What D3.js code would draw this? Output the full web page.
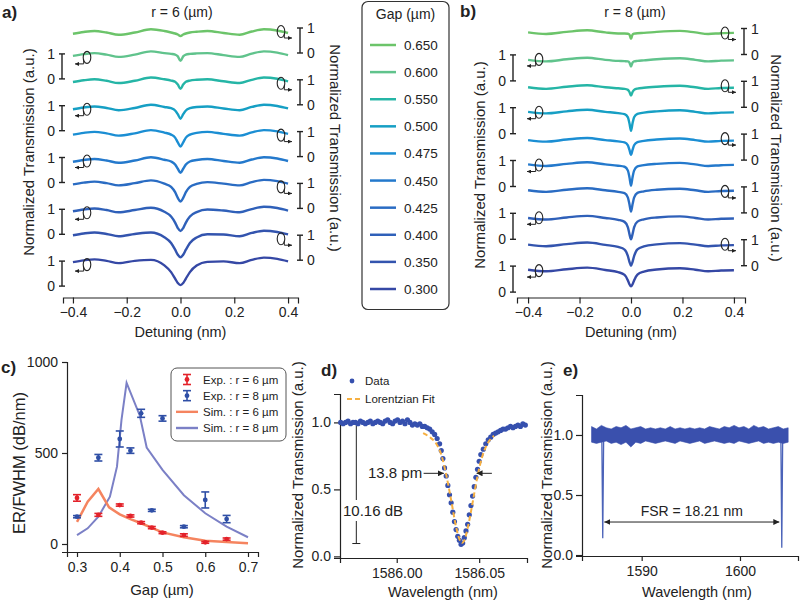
<!DOCTYPE html>
<html>
<head>
<meta charset="utf-8">
<script src="https://cdn.jsdelivr.net/npm/d3@7"></script>
<style>
body { margin: 0; background: #fff; }
svg { font-family: "Liberation Sans", Arial, Helvetica, sans-serif; }
.axis path, .axis line { stroke: #222; stroke-width: 1.2; }
.axis text { font-size: 14px; fill: #222; font-family: "Liberation Sans", Arial, sans-serif; }
</style>
</head>
<body>
<svg id="fig" width="800" height="603"></svg>
<script>
// ---------- data ----------
var gaps = ["0.650", "0.600", "0.550", "0.500", "0.475", "0.450", "0.425", "0.400", "0.350", "0.300"];

// panel a (r = 6 um), detuning in nm, transmission per gap (top to bottom)
var detuneA = [-0.4, -0.36, -0.32, -0.275, -0.23, -0.17, -0.11, -0.06, -0.035, -0.02, -0.01, 0, 0.01, 0.02, 0.035, 0.06, 0.1, 0.16, 0.22, 0.265, 0.31, 0.36, 0.4];
var transA = [
  [0.77, 0.84, 0.88, 0.82, 0.73, 0.82, 0.95, 0.88, 0.82, 0.78, 0.74, 0.68, 0.74, 0.78, 0.82, 0.85, 0.88, 0.80, 0.73, 0.86, 0.95, 0.90, 0.80],
  [0.92, 0.99, 1.03, 0.97, 0.88, 0.97, 1.10, 1.03, 1.00, 0.97, 0.90, 0.72, 0.90, 0.97, 1.00, 1.02, 1.03, 0.95, 0.88, 1.01, 1.10, 1.05, 0.95],
  [0.91, 0.98, 1.02, 0.96, 0.87, 0.96, 1.09, 1.02, 0.97, 0.92, 0.81, 0.64, 0.81, 0.92, 0.97, 1.00, 1.02, 0.94, 0.87, 1.00, 1.09, 1.04, 0.94],
  [0.86, 0.93, 0.97, 0.91, 0.82, 0.91, 1.04, 0.95, 0.90, 0.81, 0.66, 0.48, 0.66, 0.81, 0.90, 0.95, 0.97, 0.89, 0.82, 0.95, 1.04, 0.99, 0.89],
  [0.88, 0.95, 0.99, 0.93, 0.84, 0.93, 1.06, 0.96, 0.88, 0.76, 0.57, 0.40, 0.57, 0.76, 0.88, 0.95, 0.99, 0.91, 0.84, 0.97, 1.06, 1.01, 0.91],
  [0.83, 0.90, 0.94, 0.88, 0.79, 0.88, 1.01, 0.91, 0.84, 0.72, 0.55, 0.39, 0.55, 0.72, 0.84, 0.90, 0.94, 0.86, 0.79, 0.92, 1.01, 0.96, 0.86],
  [0.96, 1.03, 1.07, 1.01, 0.92, 1.01, 1.12, 0.99, 0.86, 0.65, 0.42, 0.27, 0.42, 0.65, 0.86, 0.98, 1.05, 0.99, 0.92, 1.05, 1.14, 1.09, 0.99],
  [0.92, 0.99, 1.03, 0.97, 0.88, 0.97, 1.06, 0.90, 0.71, 0.47, 0.25, 0.13, 0.25, 0.47, 0.71, 0.89, 0.99, 0.95, 0.88, 1.01, 1.10, 1.05, 0.95],
  [1.00, 1.07, 1.11, 1.05, 0.96, 1.05, 1.11, 0.92, 0.69, 0.42, 0.22, 0.12, 0.22, 0.42, 0.69, 0.91, 1.04, 1.03, 0.96, 1.09, 1.18, 1.13, 1.03],
  [0.96, 1.03, 1.07, 1.01, 0.92, 1.01, 1.05, 0.83, 0.56, 0.30, 0.12, 0.04, 0.12, 0.30, 0.56, 0.82, 0.97, 0.99, 0.92, 1.05, 1.14, 1.09, 0.99]
];

// panel b (r = 8 um)
var detuneB = [-0.4, -0.33, -0.25, -0.17, -0.1, -0.05, -0.025, -0.012, -0.006, 0, 0.006, 0.012, 0.025, 0.05, 0.1, 0.19, 0.25, 0.3, 0.35, 0.4];
var transB = [
  [0.85, 0.79, 0.87, 0.93, 0.85, 0.81, 0.81, 0.80, 0.77, 0.60, 0.77, 0.80, 0.82, 0.83, 0.87, 0.91, 0.85, 0.79, 0.82, 0.83],
  [0.81, 0.75, 0.83, 0.89, 0.81, 0.77, 0.76, 0.75, 0.70, 0.55, 0.70, 0.75, 0.77, 0.79, 0.83, 0.87, 0.81, 0.75, 0.78, 0.79],
  [0.77, 0.71, 0.79, 0.85, 0.77, 0.73, 0.71, 0.67, 0.59, 0.45, 0.59, 0.67, 0.72, 0.75, 0.79, 0.83, 0.77, 0.71, 0.74, 0.75],
  [0.84, 0.78, 0.86, 0.92, 0.84, 0.79, 0.75, 0.63, 0.40, 0.11, 0.40, 0.63, 0.76, 0.81, 0.86, 0.90, 0.84, 0.78, 0.81, 0.82],
  [0.77, 0.71, 0.79, 0.85, 0.77, 0.72, 0.68, 0.57, 0.39, 0.20, 0.39, 0.57, 0.69, 0.74, 0.79, 0.83, 0.77, 0.71, 0.74, 0.75],
  [0.85, 0.79, 0.87, 0.93, 0.85, 0.80, 0.76, 0.61, 0.36, 0.03, 0.36, 0.61, 0.77, 0.82, 0.87, 0.91, 0.85, 0.79, 0.82, 0.83],
  [0.87, 0.81, 0.89, 0.95, 0.87, 0.81, 0.76, 0.59, 0.33, 0.05, 0.33, 0.59, 0.77, 0.83, 0.89, 0.93, 0.87, 0.81, 0.84, 0.85],
  [0.82, 0.76, 0.84, 0.90, 0.82, 0.75, 0.67, 0.46, 0.20, 0.00, 0.20, 0.46, 0.68, 0.77, 0.84, 0.88, 0.82, 0.76, 0.79, 0.80],
  [0.81, 0.75, 0.83, 0.89, 0.80, 0.72, 0.62, 0.37, 0.15, 0.00, 0.15, 0.37, 0.63, 0.74, 0.82, 0.87, 0.81, 0.75, 0.78, 0.79],
  [0.86, 0.80, 0.88, 0.94, 0.85, 0.77, 0.66, 0.45, 0.30, 0.22, 0.30, 0.45, 0.67, 0.79, 0.87, 0.92, 0.86, 0.80, 0.83, 0.84]
];

// panel c: ER/FWHM vs gap
var gapExp = [0.30, 0.35, 0.40, 0.425, 0.45, 0.475, 0.50, 0.55, 0.60, 0.65];
var expR6 = [253, 160, 214, 154, 117, 90, 62, 49, 9, 27];
var expR6Err = [18, 8, 6, 6, 6, 6, 5, 7, 5, 6];
var expR8 = [150, 474, 577, 513, 718, 185, 690, 95, 242, 137];
var expR8Err = [6, 18, 44, 15, 22, 6, 15, 6, 44, 20];
var simGapR6 = [0.30, 0.325, 0.35, 0.375, 0.40, 0.425, 0.45, 0.50, 0.55, 0.60, 0.65, 0.70];
var simR6 = [122, 232, 302, 201, 163, 137, 114, 64, 37, 18, 11, 4];
var simGapR8 = [0.30, 0.325, 0.35, 0.377, 0.3935, 0.404, 0.416, 0.447, 0.463, 0.50, 0.55, 0.60, 0.65, 0.70];
var simR8 = [49, 86, 150, 260, 425, 680, 885, 705, 530, 407, 268, 169, 95, 37];

// panel d: single resonance
var resData = [
  [1585.966, 1.00], [1585.9675, 0.99], [1585.969, 1.00], [1585.9705, 1.01], [1585.972, 0.99], [1585.9735, 1.00],
  [1585.975, 1.00], [1585.9765, 0.99], [1585.978, 1.01], [1585.9795, 1.00], [1585.981, 0.99], [1585.9825, 1.00],
  [1585.984, 1.01], [1585.9855, 0.99], [1585.987, 1.00], [1585.9885, 1.01], [1585.990, 1.00], [1585.9915, 0.99],
  [1585.993, 1.01], [1585.9945, 1.02], [1585.996, 1.00], [1585.9975, 0.99], [1585.999, 1.01], [1586.0005, 1.02],
  [1586.002, 1.00], [1586.0035, 1.01], [1586.005, 0.99], [1586.0065, 1.02], [1586.008, 1.00], [1586.0095, 0.98],
  [1586.011, 0.99], [1586.0125, 0.98], [1586.014, 0.99], [1586.0155, 0.97], [1586.017, 0.97], [1586.0185, 0.96],
  [1586.020, 0.95], [1586.0215, 0.93], [1586.023, 0.91], [1586.0245, 0.88], [1586.026, 0.84], [1586.027, 0.79],
  [1586.028, 0.73], [1586.029, 0.66], [1586.030, 0.60], [1586.031, 0.53], [1586.032, 0.46], [1586.033, 0.40],
  [1586.034, 0.33], [1586.035, 0.26], [1586.036, 0.20], [1586.037, 0.15], [1586.038, 0.12], [1586.039, 0.09],
  [1586.040, 0.10], [1586.041, 0.14], [1586.042, 0.19], [1586.043, 0.24], [1586.044, 0.31], [1586.045, 0.38],
  [1586.046, 0.45], [1586.047, 0.52], [1586.048, 0.59], [1586.049, 0.65], [1586.050, 0.71], [1586.051, 0.76],
  [1586.0525, 0.80], [1586.054, 0.84], [1586.0555, 0.87], [1586.057, 0.89], [1586.0585, 0.91], [1586.060, 0.92],
  [1586.0615, 0.93], [1586.063, 0.94], [1586.0645, 0.95], [1586.066, 0.95], [1586.0675, 0.96], [1586.069, 0.97],
  [1586.0705, 0.96], [1586.072, 0.97], [1586.0735, 0.98], [1586.075, 0.97], [1586.0765, 0.99], [1586.078, 0.98]
];
var fitData = [
  [1586.016, 0.92], [1586.020, 0.89], [1586.024, 0.84], [1586.027, 0.76], [1586.030, 0.61], [1586.033, 0.42],
  [1586.036, 0.22], [1586.038, 0.13], [1586.0395, 0.10], [1586.041, 0.12], [1586.043, 0.21], [1586.046, 0.40],
  [1586.049, 0.60], [1586.052, 0.75], [1586.055, 0.84], [1586.059, 0.90]
];

// panel e: broad sweep, noise band envelope + two resonances
var sweepWl = [1584.9, 1585.4, 1585.9, 1586.4, 1586.9, 1587.4, 1587.9, 1588.4, 1588.9, 1589.4, 1589.9, 1590.4, 1590.9, 1591.4,
  1591.9, 1592.4, 1592.9, 1593.4, 1593.9, 1594.4, 1594.9, 1595.4, 1595.9, 1596.4, 1596.9, 1597.4, 1597.9, 1598.4, 1598.9,
  1599.4, 1599.9, 1600.4, 1600.9, 1601.4, 1601.9, 1602.4, 1602.9, 1603.4, 1603.9, 1604.4, 1604.9];
var sweepHi = [1.07, 1.05, 1.08, 1.06, 1.05, 1.07, 1.06, 1.08, 1.05, 1.06, 1.07, 1.05, 1.06, 1.05, 1.06, 1.05, 1.07, 1.05,
  1.06, 1.05, 1.06, 1.05, 1.06, 1.05, 1.07, 1.06, 1.05, 1.07, 1.06, 1.08, 1.06, 1.07, 1.05, 1.08, 1.06, 1.07, 1.05, 1.06,
  1.07, 1.05, 1.06];
var sweepLo = [0.94, 0.93, 0.94, 0.95, 0.93, 0.94, 0.92, 0.94, 0.90, 0.94, 0.93, 0.95, 0.94, 0.93, 0.94, 0.95, 0.94, 0.93,
  0.95, 0.94, 0.93, 0.94, 0.95, 0.93, 0.94, 0.95, 0.94, 0.93, 0.94, 0.93, 0.95, 0.94, 0.93, 0.94, 0.95, 0.93, 0.94, 0.93,
  0.94, 0.93, 0.94];
var sweepDips = [
  [[1585.95, 0.95], [1586.04, 0.14], [1586.13, 0.95]],
  [[1604.16, 0.95], [1604.25, 0.06], [1604.34, 0.95]]
];

// ---------- styles ----------
var gapColors = ["#6cc46a", "#60c38c", "#25b5a6", "#169fc4", "#1b8ed3", "#2479cc", "#2a6cc3", "#2f60b9", "#3354ae", "#3548a5"];
var ink = "#222";

var svg = d3.select("#fig");

// arrow markers
var defs = svg.append("defs");
function arrowMarker(id, size) {
  defs.append("marker").attr("id", id)
    .attr("viewBox", "0 0 10 10").attr("refX", 10).attr("refY", 5)
    .attr("markerWidth", size).attr("markerHeight", size).attr("markerUnits", "userSpaceOnUse")
    .attr("orient", "auto-start-reverse")
    .append("path").attr("d", "M0,0 L10,5 L0,10 Z").attr("fill", ink);
}
arrowMarker("ah", 6);
arrowMarker("ahs", 4);

function label(x, y, txt, size, opts) {
  opts = opts || {};
  var t = svg.append("text")
    .attr("x", x).attr("y", y)
    .attr("font-size", size)
    .attr("fill", ink)
    .attr("text-anchor", opts.anchor || "start")
    .text(txt);
  if (opts.bold) t.attr("font-weight", "bold");
  if (opts.rot) t.attr("transform", "rotate(" + opts.rot + "," + x + "," + y + ")").attr("dominant-baseline", "central");
  return t;
}

// ---------- stacked spectra (a, b) ----------
function stackPanel(o) {
  var g = svg.append("g");
  var x = d3.scaleLinear().domain(o.domain).range(o.range);
  var t = d3.scaleLinear().domain([0, 1]).range([0, -o.unit]);

  g.append("g").attr("class", "axis")
    .attr("transform", "translate(0," + o.axisY + ")")
    .call(d3.axisBottom(x).tickValues([-0.4, -0.2, 0, 0.2, 0.4]).tickFormat(d3.format(".1f"))
      .tickSizeOuter(0).tickSize(6).tickPadding(4));

  var line = d3.line().x(function(d) { return x(d[0]); }).y(function(d) { return t(d[1]); })
    .curve(d3.curveMonotoneX);

  o.trans.forEach(function(vals, k) {
    var zero = o.zero0 + o.step * k;
    var tg = g.append("g").attr("transform", "translate(0," + zero + ")");
    tg.append("path")
      .datum(o.detune.map(function(d, i) { return [d, vals[i]]; }))
      .attr("d", line)
      .attr("fill", "none")
      .attr("stroke", gapColors[k])
      .attr("stroke-width", 2.4)
      .attr("stroke-linejoin", "round");

    var left = (k % 2 === 1);
    var bx = left ? o.barL : o.barR;
    // scale bar 0..1
    tg.append("line").attr("x1", bx).attr("x2", bx).attr("y1", t(1)).attr("y2", t(0))
      .attr("stroke", ink).attr("stroke-width", 1.4);
    [0, 1].forEach(function(v) {
      tg.append("line").attr("x1", bx - 3).attr("x2", bx + 3).attr("y1", t(v)).attr("y2", t(v))
        .attr("stroke", ink).attr("stroke-width", 1.4);
      tg.append("text")
        .attr("x", left ? bx - 7 : bx + 7).attr("y", t(v) + 5)
        .attr("text-anchor", left ? "end" : "start")
        .attr("font-size", 14).attr("fill", ink).text(v);
    });
    // ring symbol with arrow pointing to its axis
    var cx = left ? o.ringL : o.ringR;
    var cy = -o.ringUp;
    tg.append("ellipse").attr("cx", cx).attr("cy", cy).attr("rx", 3.8).attr("ry", 6)
      .attr("fill", "none").attr("stroke", ink).attr("stroke-width", 1.1);
    var sx = left ? cx - 3.3 : cx + 3.3;
    var ex = left ? cx - 12 : cx + 11;
    tg.append("path")
      .attr("d", "M" + sx + "," + (cy + 2) + " L" + sx + "," + (cy + 6.5) + " L" + ex + "," + (cy + 6.5))
      .attr("fill", "none").attr("stroke", ink).attr("stroke-width", 1)
      .attr("marker-end", "url(#ahs)");
  });
  return x;
}

stackPanel({
  domain: [-0.437, 0.437], range: [63, 298], axisY: 297.5,
  detune: detuneA, trans: transA, zero0: 53, step: 25.9, unit: 25,
  barL: 62, barR: 300, ringL: 87, ringR: 281, ringUp: 21.5
});
stackPanel({
  domain: [-0.443, 0.443], range: [517, 745], axisY: 297.5,
  detune: detuneB, trans: transB, zero0: 54.5, step: 26.4, unit: 26,
  barL: 513, barR: 744, ringL: 539, ringR: 725, ringUp: 21.5
});

label(2, 18, "a)", 17, { bold: true });
label(182, 17, "r = 6 (\u00b5m)", 14, { anchor: "middle" });
label(180.5, 337, "Detuning (nm)", 14.5, { anchor: "middle" });
label(28.5, 152, "Normalized Transmission (a.u.)", 15, { anchor: "middle", rot: -90 });
label(335, 148, "Normalized Transmission (a.u.)", 15, { anchor: "middle", rot: 90 });

label(460, 17, "b)", 17, { bold: true });
label(635, 17, "r = 8 (\u00b5m)", 14, { anchor: "middle" });
label(631, 337, "Detuning (nm)", 14.5, { anchor: "middle" });
label(479, 165, "Normalized Transmission (a.u.)", 15, { anchor: "middle", rot: -90 });
label(776, 158, "Normalized Transmission (a.u.)", 15, { anchor: "middle", rot: 90 });

// gap legend
var lg = svg.append("g");
lg.append("rect").attr("x", 362).attr("y", 1.5).attr("width", 87).attr("height", 308).attr("rx", 6)
  .attr("fill", "#fff").attr("stroke", "#333").attr("stroke-width", 1.2);
lg.append("text").attr("x", 405.5).attr("y", 19).attr("text-anchor", "middle")
  .attr("font-size", 14).attr("fill", ink).text("Gap (\u00b5m)");
var legY = d3.scalePoint().domain(gaps).range([45, 289]);
gaps.forEach(function(gp, k) {
  lg.append("line").attr("x1", 370).attr("x2", 396).attr("y1", legY(gp)).attr("y2", legY(gp))
    .attr("stroke", gapColors[k]).attr("stroke-width", 2.5);
  lg.append("text").attr("x", 404).attr("y", legY(gp) + 5).attr("font-size", 13.5).attr("fill", ink).text(gp);
});

// ---------- panel c ----------
(function() {
  var x = d3.scaleLinear().domain([0.2766, 0.7234]).range([67, 258]);
  var y = d3.scaleLinear().domain([-44, 1000]).range([552, 362]);
  var g = svg.append("g");
  g.append("g").attr("class", "axis").attr("transform", "translate(0,552)")
    .call(d3.axisBottom(x).tickValues([0.3, 0.4, 0.5, 0.6, 0.7]).tickFormat(d3.format(".1f"))
      .tickSizeOuter(0).tickSize(5).tickPadding(5));
  g.append("g").attr("class", "axis").attr("transform", "translate(67,0)")
    .call(d3.axisLeft(y).tickValues([0, 500, 1000]).tickFormat(d3.format("d"))
      .tickSizeOuter(0).tickSize(5).tickPadding(4));

  var line = d3.line().x(function(d) { return x(d[0]); }).y(function(d) { return y(d[1]); });
  g.append("path").datum(simGapR8.map(function(d, i) { return [d, simR8[i]]; }))
    .attr("d", line).attr("fill", "none").attr("stroke", "#7b80c6").attr("stroke-width", 2);
  g.append("path").datum(simGapR6.map(function(d, i) { return [d, simR6[i]]; }))
    .attr("d", line).attr("fill", "none").attr("stroke", "#f5845f").attr("stroke-width", 2.5);

  function errPoints(vals, errs, col) {
    gapExp.forEach(function(gp, i) {
      var px = x(gp);
      g.append("line").attr("x1", px).attr("x2", px).attr("y1", y(vals[i] - errs[i])).attr("y2", y(vals[i] + errs[i]))
        .attr("stroke", col).attr("stroke-width", 1.6);
      [vals[i] - errs[i], vals[i] + errs[i]].forEach(function(v) {
        g.append("line").attr("x1", px - 4).attr("x2", px + 4).attr("y1", y(v)).attr("y2", y(v))
          .attr("stroke", col).attr("stroke-width", 1.6);
      });
      g.append("circle").attr("cx", px).attr("cy", y(vals[i])).attr("r", 2.4).attr("fill", col);
    });
  }
  errPoints(expR6, expR6Err, "#e3222a");
  errPoints(expR8, expR8Err, "#2f4fa6");

  // legend
  var lg = g.append("g");
  lg.append("rect").attr("x", 171).attr("y", 368).attr("width", 115).attr("height", 73).attr("rx", 6)
    .attr("fill", "#fff").attr("stroke", "#555").attr("stroke-width", 1);
  var items = [
    { t: "Exp. : r = 6 \u00b5m", c: "#e3222a", k: "err" },
    { t: "Exp. : r = 8 \u00b5m", c: "#2f4fa6", k: "err" },
    { t: "Sim. : r = 6 \u00b5m", c: "#f5845f", k: "line" },
    { t: "Sim. : r = 8 \u00b5m", c: "#7b80c6", k: "line" }
  ];
  var ly = d3.scalePoint().domain(d3.range(items.length)).range([379.5, 428]);
  items.forEach(function(it, i) {
    var yy = ly(i);
    if (it.k === "err") {
      lg.append("line").attr("x1", 187).attr("x2", 187).attr("y1", yy - 5).attr("y2", yy + 5).attr("stroke", it.c).attr("stroke-width", 1.6);
      lg.append("line").attr("x1", 183).attr("x2", 191).attr("y1", yy - 5).attr("y2", yy - 5).attr("stroke", it.c).attr("stroke-width", 1.6);
      lg.append("line").attr("x1", 183).attr("x2", 191).attr("y1", yy + 5).attr("y2", yy + 5).attr("stroke", it.c).attr("stroke-width", 1.6);
      lg.append("circle").attr("cx", 187).attr("cy", yy).attr("r", 2.4).attr("fill", it.c);
    } else {
      lg.append("line").attr("x1", 176).attr("x2", 198).attr("y1", yy).attr("y2", yy).attr("stroke", it.c).attr("stroke-width", 2.4);
    }
    lg.append("text").attr("x", 203).attr("y", yy + 4).attr("font-size", 11.5).attr("fill", ink).text(it.t);
  });
})();
label(1, 373, "c)", 17, { bold: true });
label(162, 595, "Gap (\u00b5m)", 15, { anchor: "middle" });
label(18.5, 463, "ER/FWHM (dB/nm)", 16.5, { anchor: "middle", rot: -90 });

// ---------- panel d ----------
(function() {
  var x = d3.scaleLinear().domain([1585.9656, 1586.079]).range([340, 527]);
  var y = d3.scaleLinear().domain([-0.012, 1.212]).range([558, 394]);
  var g = svg.append("g");
  g.append("g").attr("class", "axis").attr("transform", "translate(0,558)")
    .call(d3.axisBottom(x).tickValues([1586.00, 1586.05]).tickFormat(d3.format(".2f"))
      .tickSizeOuter(0).tickSize(5).tickPadding(5));
  g.append("g").attr("class", "axis").attr("transform", "translate(340,0)")
    .call(d3.axisLeft(y).tickValues([0, 0.5, 1]).tickFormat(d3.format(".1f"))
      .tickSizeOuter(0).tickSize(6).tickPadding(3));

  // ER marker
  var ex = x(1585.9755);
  g.append("line").attr("x1", ex).attr("x2", ex).attr("y1", y(1.0)).attr("y2", y(0.096)).attr("stroke", ink).attr("stroke-width", 1);
  [1.0, 0.096].forEach(function(v) {
    g.append("line").attr("x1", ex - 4).attr("x2", ex + 4).attr("y1", y(v)).attr("y2", y(v)).attr("stroke", ink).attr("stroke-width", 1);
  });
  g.append("rect").attr("x", 342).attr("y", 500).attr("width", 64).attr("height", 21).attr("fill", "#fff");
  g.append("text").attr("x", 343).attr("y", 516).attr("font-size", 15).attr("fill", ink).text("10.16 dB");

  g.selectAll("circle.dat").data(resData).enter().append("circle")
    .attr("class", "dat")
    .attr("cx", function(d) { return x(d[0]); })
    .attr("cy", function(d) { return y(d[1]); })
    .attr("r", 2.6).attr("fill", "#3650ae");

  g.append("path").datum(fitData)
    .attr("d", d3.line().x(function(d) { return x(d[0]); }).y(function(d) { return y(d[1]); }).curve(d3.curveMonotoneX))
    .attr("fill", "none").attr("stroke", "#f6b042").attr("stroke-width", 2).attr("stroke-dasharray", "5,3");

  // FWHM arrows
  var fy = y(0.62);
  g.append("line").attr("x1", x(1586.0163)).attr("x2", x(1586.0286)).attr("y1", fy).attr("y2", fy)
    .attr("stroke", ink).attr("stroke-width", 1).attr("marker-end", "url(#ah)");
  g.append("line").attr("x1", x(1586.0577)).attr("x2", x(1586.0484)).attr("y1", fy).attr("y2", fy)
    .attr("stroke", ink).attr("stroke-width", 1).attr("marker-end", "url(#ah)");
  g.append("text").attr("x", 368).attr("y", 478).attr("font-size", 15).attr("fill", ink).text("13.8 pm");

  // legend
  g.append("circle").attr("cx", 352).attr("cy", 381).attr("r", 2.4).attr("fill", "#3650ae");
  g.append("text").attr("x", 365).attr("y", 385).attr("font-size", 11.5).attr("fill", ink).text("Data");
  g.append("line").attr("x1", 347).attr("x2", 360).attr("y1", 399).attr("y2", 399)
    .attr("stroke", "#f6b042").attr("stroke-width", 2).attr("stroke-dasharray", "5,3");
  g.append("text").attr("x", 365).attr("y", 403).attr("font-size", 11.5).attr("fill", ink).text("Lorentzian Fit");
})();
label(321, 376, "d)", 17, { bold: true });
label(443, 597, "Wavelength (nm)", 14.5, { anchor: "middle" });
label(297, 465, "Normalized Transmission (a.u.)", 15, { anchor: "middle", rot: -90 });

// ---------- panel e ----------
(function() {
  var x = d3.scaleLinear().domain([1583.93, 1605.9]).range([582, 798]);
  var y = d3.scaleLinear().domain([-0.008, 1.333]).range([556, 395]);
  var g = svg.append("g");
  g.append("g").attr("class", "axis").attr("transform", "translate(0,556)")
    .call(d3.axisBottom(x).tickValues([1590, 1600]).tickFormat(d3.format("d"))
      .tickSizeOuter(0).tickSize(5).tickPadding(5));
  g.append("g").attr("class", "axis").attr("transform", "translate(582,0)")
    .call(d3.axisLeft(y).tickValues([0, 0.5, 1]).tickFormat(d3.format(".1f"))
      .tickSizeOuter(0).tickSize(6).tickPadding(3));

  var line = d3.line().x(function(d) { return x(d[0]); }).y(function(d) { return y(d[1]); });
  sweepDips.forEach(function(dp) {
    g.append("path").datum(dp).attr("d", line).attr("fill", "none").attr("stroke", "#4b63b9").attr("stroke-width", 1.3);
  });
  g.append("path").datum(sweepWl.map(function(d, i) { return [d, sweepLo[i], sweepHi[i]]; }))
    .attr("d", d3.area().x(function(d) { return x(d[0]); }).y0(function(d) { return y(d[1]); }).y1(function(d) { return y(d[2]); }))
    .attr("fill", "#3a50ad").attr("stroke", "#3a50ad").attr("stroke-width", 0.6);

  var fy = y(0.275);
  g.append("line").attr("x1", x(1586.2)).attr("x2", x(1604.0)).attr("y1", fy).attr("y2", fy)
    .attr("stroke", ink).attr("stroke-width", 1)
    .attr("marker-start", "url(#ah)").attr("marker-end", "url(#ah)");
  g.append("text").attr("x", x(1595.1)).attr("y", 516).attr("text-anchor", "middle")
    .attr("font-size", 14).attr("fill", ink).text("FSR = 18.21 nm");
})();
label(563, 376, "e)", 17, { bold: true });
label(697, 597, "Wavelength (nm)", 14.5, { anchor: "middle" });
label(546, 465, "Normalized Transmission (a.u.)", 15, { anchor: "middle", rot: -90 });
</script>
</body>
</html>
